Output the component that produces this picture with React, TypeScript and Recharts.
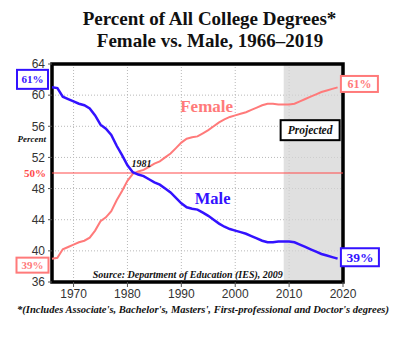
import React from 'react';
import {
  LineChart,
  Line,
  XAxis,
  YAxis,
  CartesianGrid,
  ReferenceArea,
  ReferenceLine,
  ReferenceDot,
  Label,
} from 'recharts';

// share of all college degrees (%)
const years = [
  1966, 1967, 1968, 1969, 1970, 1971, 1972, 1973, 1974, 1975,
  1976, 1977, 1978, 1979, 1980, 1981, 1982, 1983, 1984, 1985,
  1986, 1987, 1988, 1989, 1990, 1991, 1992, 1993, 1994, 1995,
  1996, 1997, 1998, 1999, 2000, 2001, 2002, 2003, 2004, 2005,
  2006, 2007, 2008, 2009, 2010, 2011, 2012, 2013, 2014, 2015,
  2016, 2017, 2018, 2019,
];
const maleShare = [
  61.0, 60.9, 59.8, 59.5, 59.2, 58.9, 58.7, 58.3, 57.4, 56.2,
  55.7, 54.9, 53.5, 52.3, 51.0, 50.1, 49.8, 49.6, 49.2, 48.8,
  48.5, 48.0, 47.5, 46.8, 46.1, 45.6, 45.4, 45.3, 44.9, 44.5,
  44.0, 43.5, 43.1, 42.8, 42.6, 42.4, 42.2, 41.9, 41.6, 41.3,
  41.1, 41.1, 41.2, 41.2, 41.2, 41.1, 40.8, 40.5, 40.2, 39.9,
  39.6, 39.4, 39.2, 39.0,
];
const femaleShare = [
  39.0, 39.1, 40.2, 40.5, 40.8, 41.1, 41.3, 41.7, 42.6, 43.8,
  44.3, 45.1, 46.5, 47.7, 49.0, 49.9, 50.2, 50.4, 50.8, 51.2,
  51.5, 52.0, 52.5, 53.2, 53.9, 54.4, 54.6, 54.7, 55.1, 55.5,
  56.0, 56.5, 56.9, 57.2, 57.4, 57.6, 57.8, 58.1, 58.4, 58.7,
  58.9, 58.9, 58.8, 58.8, 58.8, 58.9, 59.2, 59.5, 59.8, 60.1,
  60.4, 60.6, 60.8, 61.0,
];
const xTicks = [1970, 1980, 1990, 2000, 2010, 2020];
const yTicks = [36, 40, 44, 48, 52, 56, 60, 64];
const projectedFrom = 2009;
const crossoverYear = 1981;

const rows = years.map((year, i) => ({
  year,
  male: maleShare[i],
  female: femaleShare[i],
}));

const BLUE = '#3312ff';
const PINK = '#ff7a7a';
const RED = '#ff4a4a';
const SERIF = '"Liberation Serif", "Times New Roman", serif';
const SANS = '"Liberation Sans", Arial, sans-serif';

type Box = { dx: number; dy: number; w: number; h: number; size: number };

// boxed start / end value labels
const endBoxes = (color: string, first: Box, last: Box) => (p: any) => {
  const { x, y, index, value } = p;
  const lastIndex = years.length - 1;
  if (index !== 0 && index !== lastIndex) return null;
  const b = index === 0 ? first : last;
  return (
    <g key={'box' + index}>
      <rect x={x + b.dx} y={y + b.dy} width={b.w} height={b.h} fill="#fff" stroke={color} strokeWidth={2} />
      <text
        x={x + b.dx + b.w / 2}
        y={y + b.dy + b.h / 2}
        textAnchor="middle"
        dominantBaseline="central"
        fill={color}
        fontSize={b.size}
        fontWeight="bold"
        fontFamily={SERIF}
      >
        {Math.round(value) + '%'}
      </text>
    </g>
  );
};

const centerText = (text: string, fill: string, size: number, italic = false) => (p: any) => {
  const vb = p.viewBox || {};
  const cx = vb.x + (vb.width || 0) / 2;
  const cy = vb.y + (vb.height || 0) / 2;
  return (
    <text
      x={cx}
      y={cy}
      textAnchor="middle"
      dominantBaseline="central"
      fill={fill}
      fontSize={size}
      fontWeight="bold"
      fontStyle={italic ? 'italic' : 'normal'}
      fontFamily={SERIF}
    >
      {text}
    </text>
  );
};

const projectedBox = (p: any) => {
  const vb = p.viewBox || {};
  const cx = vb.x + (vb.width || 0) / 2;
  const cy = vb.y + (vb.height || 0) / 2;
  return (
    <g>
      <rect x={cx - 29.5} y={cy - 10} width={59} height={20} fill="#fff" stroke="#000" strokeWidth={2} />
      <text x={cx} y={cy} textAnchor="middle" dominantBaseline="central" fontSize={11.5}
        fontWeight="bold" fontStyle="italic" fontFamily={SERIF} fill="#111">
        Projected
      </text>
    </g>
  );
};

export default function App() {
  return (
    <div style={{ position: 'absolute', left: 0, top: 0, width: 400, height: 340, background: '#fff' }}>
      <LineChart
        width={400}
        height={340}
        data={rows}
        margin={{ top: 64, right: 57, bottom: 38, left: 12 }}
      >
        <ReferenceArea x1={projectedFrom} x2={2020} y1={36} y2={64} fill="#d4d4d4" fillOpacity={0.72} stroke="none" />
        <CartesianGrid strokeDasharray="1 2" stroke="#b8b8b8" />
        <XAxis
          dataKey="year"
          type="number"
          domain={[1966, 2020]}
          ticks={xTicks}
          height={20}
          tickSize={5}
          axisLine={false}
          tickLine={{ stroke: '#555' }}
          tick={{ fontSize: 12, fill: '#333', fontFamily: SANS }}
        />
        <YAxis
          type="number"
          domain={[36, 64]}
          ticks={yTicks}
          width={40}
          tickSize={4}
          tickMargin={3}
          axisLine={false}
          tickLine={{ stroke: '#555' }}
          tick={{ fontSize: 12, fill: '#333', fontFamily: SANS }}
        />
        <ReferenceLine y={50} stroke={RED} strokeWidth={1.2}>
          <Label value="50%" position="left" offset={6} fill={RED} fontSize={11} fontWeight="bold" fontFamily={SERIF} />
        </ReferenceLine>
        <Line
          dataKey="female"
          type="linear"
          stroke={PINK}
          strokeWidth={2}
          dot={false}
          isAnimationActive={false}
          label={endBoxes(
            PINK,
            { dx: -35.5, dy: -1, w: 32, h: 15, size: 11 },
            { dx: 3.3, dy: -11.4, w: 37, h: 16, size: 12 },
          )}
        />
        <Line
          dataKey="male"
          type="linear"
          stroke={BLUE}
          strokeWidth={2.5}
          dot={false}
          isAnimationActive={false}
          label={endBoxes(
            BLUE,
            { dx: -35, dy: -17.5, w: 31, h: 19, size: 11 },
            { dx: 3.3, dy: -10.4, w: 38, h: 18, size: 13.5 },
          )}
        />
        <ReferenceDot x={1994.7} y={58.5} r={0} stroke="none" label={centerText('Female', PINK, 17)} />
        <ReferenceDot x={1995.8} y={46.7} r={0} stroke="none" label={centerText('Male', BLUE, 16.5)} />
        <ReferenceDot x={1982.6} y={51.2} r={0} stroke="none" label={centerText(String(crossoverYear), '#111', 10, true)} />
        <ReferenceDot x={2013.9} y={55.5} r={0} stroke="none" label={projectedBox} />
        <ReferenceDot x={1991.2} y={36.9} r={0} stroke="none"
          label={centerText('Source: Department of Education (IES), 2009', '#111', 10, true)} />
        <ReferenceDot x={1966} y={54.4} r={0} stroke="none">
          <Label value="Percent" position="left" offset={6} fill="#111" fontSize={9}
            fontWeight="bold" fontStyle="italic" fontFamily={SERIF} />
        </ReferenceDot>
        <ReferenceArea x1={1966} x2={2020} y1={36} y2={64} fill="none" stroke="#000" strokeWidth={3.5} />
      </LineChart>
      <svg width={400} height={340} style={{ position: 'absolute', left: 0, top: 0, pointerEvents: 'none' }}>
        <text x={209.5} y={25} textAnchor="middle" fontSize={19} fontWeight="bold" fontFamily={SERIF} fill="#111">
          Percent of All College Degrees*
        </text>
        <text x={210} y={47} textAnchor="middle" fontSize={19} fontWeight="bold" fontFamily={SERIF} fill="#111">
          Female vs. Male, 1966–2019
        </text>
        <text x={17} y={313} textLength={372} lengthAdjust="spacingAndGlyphs" fontSize={9.5}
          fontWeight="bold" fontStyle="italic" fontFamily={SERIF} fill="#111">
          *(Includes Associate's, Bachelor's, Masters', First-professional and Doctor's degrees)
        </text>
      </svg>
    </div>
  );
}
